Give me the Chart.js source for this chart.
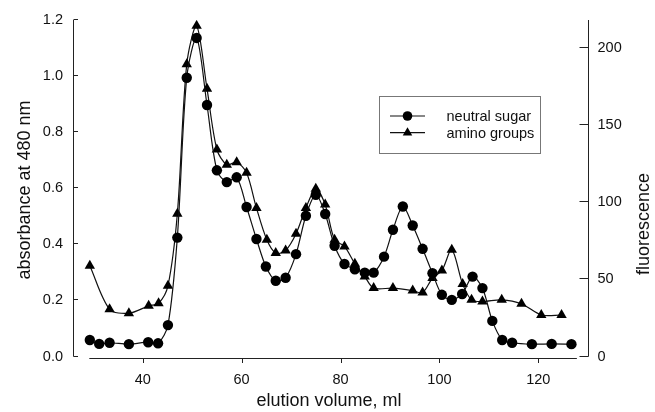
<!DOCTYPE html>
<html>
<head>
<meta charset="utf-8">
<script src="https://cdn.jsdelivr.net/npm/chart.js@4/dist/chart.umd.min.js"></script>
<style>
  html, body { margin: 0; padding: 0; background: #fff; }
  #wrap { width: 655px; height: 412px; }
</style>
</head>
<body>
<div id="wrap"><canvas id="c" width="655" height="412"></canvas></div>
<script>
const FONT = "'Liberation Sans', Arial, Helvetica, sans-serif";

// neutral sugar (absorbance at 480 nm, left axis)
const sugarVol = [29.3, 31.2, 33.3, 37.2, 41.1, 43.1, 45.1, 47.0, 48.9, 50.9, 53.0, 55.0, 57.0, 59.0, 61.0, 63.0,
  64.9, 66.9, 68.9, 71.0, 73.0, 75.0, 76.9, 78.8, 80.8, 82.9, 84.9, 86.7, 88.8, 90.6, 92.6, 94.6, 96.6, 98.6,
  100.5, 102.5, 104.6, 106.7, 108.7, 110.7, 112.7, 114.7, 118.7, 122.7, 126.7];
const sugarAbs = [0.059, 0.045, 0.049, 0.044, 0.051, 0.047, 0.112, 0.424, 0.994, 1.136, 0.897, 0.664, 0.622, 0.639, 0.533, 0.419,
  0.321, 0.270, 0.281, 0.365, 0.502, 0.577, 0.508, 0.395, 0.330, 0.311, 0.299, 0.299, 0.356, 0.452, 0.535, 0.467, 0.384, 0.297,
  0.220, 0.202, 0.223, 0.285, 0.244, 0.127, 0.059, 0.049, 0.044, 0.045, 0.044];

// amino groups (fluorescence, right axis)
const aminoVol = [29.3, 33.3, 37.2, 41.2, 43.2, 45.1, 47.0, 48.9, 50.9, 53.0, 55.0, 57.0, 59.0, 61.0, 63.0,
  65.1, 66.9, 68.9, 71.0, 73.0, 75.0, 76.9, 78.8, 80.8, 82.9, 84.9, 86.7, 90.6, 94.6, 96.6, 98.6,
  100.5, 102.5, 104.7, 106.5, 108.7, 112.6, 116.6, 120.6, 124.7];
const aminoFl = [58.8, 30.6, 28.0, 32.8, 34.5, 45.8, 92.5, 189.3, 214.2, 173.5, 134.1, 124.2, 125.8, 119.0, 96.2,
  75.6, 67.0, 68.7, 79.5, 96.2, 108.6, 98.4, 75.6, 71.3, 60.1, 51.8, 44.3, 44.3, 42.7, 41.4, 50.8,
  55.7, 69.2, 46.9, 36.7, 35.6, 36.7, 34.1, 26.9, 26.9];

const xTicks = [40, 60, 80, 100, 120];
const yTicks = [0, 0.2, 0.4, 0.6, 0.8, 1.0, 1.2];
const y1Ticks = [0, 50, 100, 150, 200];
const xRange = [25.9, 130.25];
const xLine = [29.2, 127.8];

const pts = (xs, ys) => xs.map((v, i) => ({ x: v, y: ys[i] }));
const setTicks = (arr) => (s) => { s.ticks = arr.map((v) => ({ value: v })); };

function marker(ctx, style, x, y, r) {
  ctx.beginPath();
  if (style === "triangle") {
    for (let k = 0; k < 3; k++) {
      const a = k * 2 * Math.PI / 3;
      const px = x + Math.sin(a) * r, py = y - Math.cos(a) * r;
      k ? ctx.lineTo(px, py) : ctx.moveTo(px, py);
    }
    ctx.closePath();
  } else {
    ctx.arc(x, y, r, 0, Math.PI * 2);
  }
  ctx.fill();
}

const frame = {
  id: "frame",
  afterDraw(chart) {
    const { ctx, chartArea: a, scales } = chart;
    const { x, y, y1 } = scales;
    ctx.save();
    ctx.strokeStyle = "#222";
    ctx.lineWidth = 1;
    ctx.beginPath();
    // left spine, inward ticks
    const lx = a.left + 0.5;
    ctx.moveTo(lx, a.top); ctx.lineTo(lx, a.bottom);
    yTicks.forEach((v) => { const p = Math.round(y.getPixelForValue(v)) - 0.5; ctx.moveTo(lx, p); ctx.lineTo(lx + 4.5, p); });
    // right spine, inward ticks
    const rx = a.right - 0.5;
    ctx.moveTo(rx, a.top); ctx.lineTo(rx, a.bottom);
    y1Ticks.forEach((v) => { const p = Math.round(y1.getPixelForValue(v)) - 0.5; ctx.moveTo(rx, p); ctx.lineTo(rx - 9, p); });
    // bottom axis, offset slightly below
    const by = a.bottom + 2;
    ctx.moveTo(x.getPixelForValue(xLine[0]), by); ctx.lineTo(x.getPixelForValue(xLine[1]), by);
    xTicks.forEach((v) => { const p = Math.round(x.getPixelForValue(v)) + 0.5; ctx.moveTo(p, by); ctx.lineTo(p, by + 4.5); });
    ctx.stroke();

    // axis titles
    ctx.fillStyle = "#111";
    ctx.font = `18px ${FONT}`;
    ctx.textAlign = "center";
    ctx.textBaseline = "alphabetic";
    ctx.fillText("elution volume, ml", (a.left + a.right) / 2 - 2, 406);
    ctx.save();
    ctx.translate(30, 190); ctx.rotate(-Math.PI / 2);
    ctx.fillText("absorbance at 480 nm", 0, 0);
    ctx.restore();
    ctx.save();
    ctx.translate(649, 224); ctx.rotate(-Math.PI / 2);
    ctx.fillText("fluorescence", 0, 0);
    ctx.restore();

    // legend
    ctx.strokeStyle = "#777";
    ctx.strokeRect(379.5, 96.5, 161, 57);
    ctx.font = `14.5px ${FONT}`;
    ctx.textAlign = "left";
    ctx.textBaseline = "middle";
    chart.data.datasets.forEach((ds, i) => {
      const ry = 116 + i * 16.7;
      ctx.strokeStyle = ds.borderColor;
      ctx.lineWidth = 1.2;
      ctx.beginPath(); ctx.moveTo(390, ry); ctx.lineTo(425, ry); ctx.stroke();
      ctx.fillStyle = ds.pointBackgroundColor;
      marker(ctx, ds.pointStyle, 407.5, ry, ds.pointStyle === "triangle" ? 5.5 : 4.8);
      ctx.fillStyle = "#111";
      ctx.fillText(ds.label, 446.5, ry + 1);
    });
    ctx.restore();
  },
};

new Chart(document.getElementById("c"), {
  type: "line",
  data: {
    datasets: [
      {
        label: "neutral sugar",
        data: pts(sugarVol, sugarAbs),
        yAxisID: "y",
        borderColor: "#111",
        borderWidth: 1.2,
        pointStyle: "circle",
        pointRadius: 5.2,
        pointBackgroundColor: "#000",
        pointBorderWidth: 0,
        tension: 0.3,
      },
      {
        label: "amino groups",
        data: pts(aminoVol, aminoFl),
        yAxisID: "y1",
        borderColor: "#111",
        borderWidth: 1.2,
        pointStyle: "triangle",
        pointRadius: 6,
        pointBackgroundColor: "#000",
        pointBorderWidth: 0,
        tension: 0.3,
      },
    ],
  },
  options: {
    responsive: false,
    animation: false,
    layout: { padding: { top: 20, left: 0, right: 0, bottom: 0 } },
    plugins: { legend: { display: false }, tooltip: { enabled: false } },
    scales: {
      x: {
        type: "linear",
        min: xRange[0],
        max: xRange[1],
        afterBuildTicks: setTicks(xTicks),
        afterFit: (s) => { s.height = 55.5; },
        grid: { display: false, drawTicks: false },
        border: { display: false },
        ticks: { padding: 15, color: "#111", font: { family: FONT, size: 14.5 } },
      },
      y: {
        position: "left",
        min: 0,
        max: 1.2,
        afterBuildTicks: setTicks(yTicks),
        afterFit: (s) => { s.width = 73; },
        grid: { display: false, drawTicks: false },
        border: { display: false },
        ticks: { padding: 10, color: "#111", font: { family: FONT, size: 14.5 }, callback: (v) => v.toFixed(1) },
      },
      y1: {
        position: "right",
        min: 0,
        max: 218,
        afterBuildTicks: setTicks(y1Ticks),
        afterFit: (s) => { s.width = 66; },
        grid: { display: false, drawTicks: false },
        border: { display: false },
        ticks: { padding: 8.5, color: "#111", font: { family: FONT, size: 14.5 } },
      },
    },
  },
  plugins: [frame],
});
</script>
</body>
</html>
